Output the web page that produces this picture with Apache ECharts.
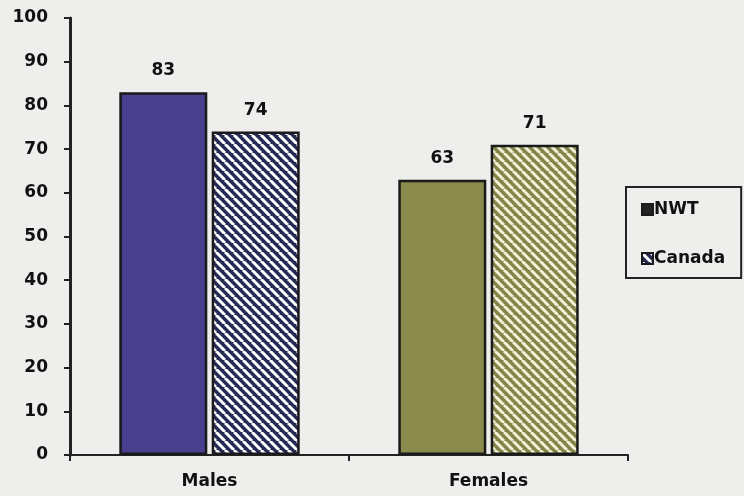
<!DOCTYPE html>
<html>
<head>
<meta charset="utf-8">
<script src="https://cdn.jsdelivr.net/npm/echarts@6/dist/echarts.min.js"></script>
<style>
  html, body { margin: 0; padding: 0; background: #eeeeec; }
  #chart { width: 744px; height: 496px; }
</style>
</head>
<body>
<div id="chart"></div>
<script>
// data
var categories = ["Males", "Females"];
var nwtValues = [83, 63];
var canadaValues = [74, 71];
var yTicks = [0, 100, 10]; // min, max, step

var nwtColors = ["#48408f", "#898a4c"];
var stripeBg = ["#262a55", "#84854a"];
var stripeFg = ["#ffffff", "#f3f2d8"];

// diagonal hatch pattern ("\" direction)
function stripes(bg, fg) {
  var size = 9;
  var c = document.createElement("canvas");
  c.width = size; c.height = size;
  var ctx = c.getContext("2d");
  ctx.fillStyle = bg;
  ctx.fillRect(0, 0, size, size);
  ctx.strokeStyle = fg;
  ctx.lineWidth = 3;
  for (var k = -1; k <= 1; k++) {
    ctx.beginPath();
    ctx.moveTo(k * size, 0);
    ctx.lineTo(k * size + size, size);
    ctx.stroke();
  }
  return { image: c, repeat: "repeat" };
}

var chart = echarts.init(document.getElementById("chart"));

var font = "DejaVu Sans";

var labelStyle = {
  show: true,
  position: "top",
  distance: 13,
  fontFamily: font,
  fontWeight: "bold",
  fontSize: 17,
  color: "#111"
};

var option = {
  backgroundColor: "#eeeeec",
  animation: false,
  grid: { left: 70, right: 116, top: 18, bottom: 41 },
  legend: {
    orient: "vertical",
    left: 626,
    top: 187,
    padding: [14, 16, 11, 15],
    itemGap: 32,
    itemWidth: 11,
    itemHeight: 11,
    borderColor: "#222",
    borderWidth: 2,
    textStyle: {
      fontFamily: font,
      fontWeight: "bold",
      fontSize: 17,
      color: "#111",
      padding: [0, 0, 0, -4]
    },
    data: [
      { name: "NWT", icon: "rect" },
      { name: "Canada", icon: "rect" }
    ]
  },
  xAxis: {
    type: "category",
    data: categories,
    axisLine: { lineStyle: { color: "#222", width: 2 } },
    axisTick: { show: true, length: 6, lineStyle: { color: "#222", width: 2 } },
    axisLabel: {
      margin: 18,
      fontFamily: font,
      fontWeight: "bold",
      fontSize: 17,
      color: "#111"
    }
  },
  yAxis: {
    type: "value",
    min: yTicks[0],
    max: yTicks[1],
    interval: yTicks[2],
    axisLine: { show: true, lineStyle: { color: "#222", width: 3 } },
    axisTick: { show: true, length: 6, lineStyle: { color: "#222", width: 2 } },
    splitLine: { show: false },
    axisLabel: {
      margin: 22,
      fontFamily: font,
      fontWeight: "bold",
      fontSize: 17,
      color: "#111"
    }
  },
  series: [
    {
      name: "NWT",
      type: "bar",
      barWidth: 88,
      barGap: "5%",
      itemStyle: { color: "#222", borderColor: "#1a1a1a", borderWidth: 2.5 },
      label: labelStyle,
      data: nwtValues.map(function (v, i) {
        return { value: v, itemStyle: { color: nwtColors[i] } };
      })
    },
    {
      name: "Canada",
      type: "bar",
      barWidth: 88,
      itemStyle: { color: stripes("#262a55", "#ffffff"), borderColor: "#1a1a1a", borderWidth: 2.5 },
      label: labelStyle,
      data: canadaValues.map(function (v, i) {
        return { value: v, itemStyle: { color: stripes(stripeBg[i], stripeFg[i]) } };
      })
    }
  ]
};

chart.setOption(option);
</script>
</body>
</html>
